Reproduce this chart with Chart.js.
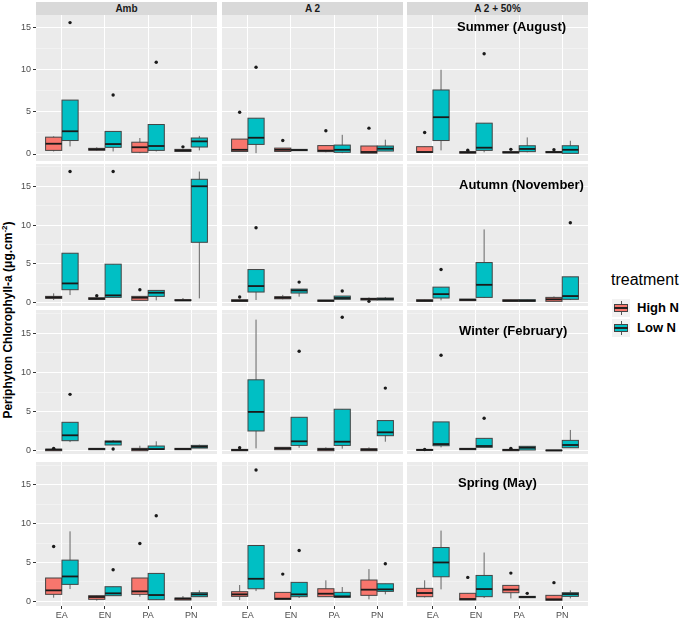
<!DOCTYPE html>
<html>
<head>
<meta charset="utf-8">
<script src="https://cdn.jsdelivr.net/npm/chart.js@4.4.0/dist/chart.umd.min.js"></script>
<style>
body { margin: 0; background: #fff; width: 685px; height: 620px; position: relative; overflow: hidden; font-family: "Liberation Sans", Arial, sans-serif; }
canvas { position: absolute; }
.strip { position: absolute; top: 2px; height: 13px; background: #D9D9D9; font-weight: bold; font-size: 10px; color: #1a1a1a; text-align: center; line-height: 13px; }
.season { position: absolute; font-weight: bold; font-size: 13px; line-height: 16px; color: #000; white-space: nowrap; }
#ytitle { position: absolute; left: 7px; top: 320px; transform: translate(-50%, -50%) rotate(-90deg); font-weight: bold; font-size: 12px; white-space: nowrap; color: #000; }
#ytitle sup { font-size: 8px; }
#legend { position: absolute; left: 611px; top: 271px; }
#legend .title { font-size: 16px; line-height: 18px; color: #000; margin-bottom: 9px; }
#legend .row { height: 20px; position: relative; font-weight: bold; font-size: 13px; line-height: 19px; padding-left: 26px; }
.key { position: absolute; left: 1px; top: 1px; width: 18px; height: 18px; background: #F2F2F2; }
.key .wh { position: absolute; left: 8.5px; top: 2px; width: 1px; height: 14px; background: #555; }
.key .bx { position: absolute; left: 2px; top: 5px; width: 12px; height: 6px; border: 1px solid #444; }
.key .md { position: absolute; left: 2px; top: 8px; width: 14px; height: 2px; background: #222; }
</style>
</head>
<body>
<div id="ytitle">Periphyton Chlorophyll-a (μg.cm<sup>-2</sup>)</div>
<div id="legend">
  <div class="title">treatment</div>
  <div class="row"><span class="key"><span class="wh"></span><span class="bx" style="background:#F8766D"></span><span class="md"></span></span>High N</div>
  <div class="row"><span class="key"><span class="wh"></span><span class="bx" style="background:#00BFC4"></span><span class="md"></span></span>Low N</div>
</div>
<script>
var sites = ['EA', 'EN', 'PA', 'PN'];
var regimes = ['Amb', 'A 2', 'A 2 + 50%'];
var seasons = ['Summer (August)', 'Autumn (November)', 'Winter (February)', 'Spring (May)'];
var yTickValues = [0, 2.5, 5, 7.5, 10, 12.5, 15, 17.5];

// boxes: one row per regime (Amb, A 2, A 2 + 50%), one entry per site: [low, q1, median, q3, high]
var summerHigh = [
	[[0.3, 0.43, 1.22, 2.0, 2.1], [0.4, 0.45, 0.55, 0.67, 0.8], [0.1, 0.2, 0.8, 1.4, 1.9], [0.3, 0.3, 0.43, 0.55, 0.55]],
	[[0.3, 0.3, 0.5, 1.77, 1.77], [0.3, 0.3, 0.5, 0.7, 0.7], [0.2, 0.28, 0.4, 1.0, 1.0], [0.1, 0.1, 0.24, 0.95, 0.95]],
	[[0.2, 0.2, 0.24, 0.87, 0.87], [0.1, 0.1, 0.2, 0.28, 0.28], [0.12, 0.12, 0.2, 0.28, 0.28], [0.15, 0.15, 0.22, 0.3, 0.3]]
];
var summerLow = [
	[[0.9, 1.6, 2.7, 6.4, 6.4], [0.3, 0.79, 1.18, 2.68, 2.68], [0.3, 0.43, 0.95, 3.5, 3.5], [0.43, 0.83, 1.5, 1.9, 2.15]],
	[[0.1, 1.14, 1.93, 4.25, 4.25], [0.4, 0.4, 0.47, 0.55, 0.55], [0.1, 0.2, 0.5, 1.06, 2.28], [0.35, 0.35, 0.63, 0.95, 1.7]],
	[[0.43, 1.6, 4.37, 7.6, 10.0], [0.2, 0.43, 0.75, 3.66, 3.66], [0.2, 0.28, 0.6, 0.98, 1.97], [0.08, 0.08, 0.5, 0.98, 1.57]]
];
var autumnHigh = [
	[[0.34, 0.56, 0.68, 0.81, 1.2], [0.43, 0.43, 0.5, 0.64, 0.64], [0.3, 0.3, 0.64, 0.81, 0.81], [0.26, 0.26, 0.3, 0.38, 0.6]],
	[[0.17, 0.17, 0.25, 0.38, 0.38], [0.43, 0.5, 0.64, 0.77, 1.0], [0.17, 0.17, 0.25, 0.34, 0.34], [0.34, 0.34, 0.47, 0.56, 0.68]],
	[[0.17, 0.17, 0.25, 0.38, 0.38], [0.26, 0.26, 0.36, 0.47, 0.47], [0.17, 0.17, 0.25, 0.38, 0.38], [0.17, 0.17, 0.43, 0.68, 0.8]]
];
var autumnLow = [
	[[0.98, 1.67, 2.48, 6.37, 6.37], [0.68, 0.68, 0.94, 4.96, 4.96], [0.3, 0.81, 1.28, 1.58, 1.58], [0.55, 7.78, 15.0, 15.9, 16.9]],
	[[0.34, 1.37, 2.14, 4.27, 4.27], [0.77, 1.24, 1.58, 1.75, 1.75], [0.43, 0.43, 0.6, 0.85, 0.85], [0.34, 0.34, 0.47, 0.6, 0.73]],
	[[0.3, 0.6, 1.1, 2.0, 2.0], [0.6, 0.68, 2.3, 5.17, 9.44], [0.17, 0.17, 0.25, 0.38, 0.38], [0.34, 0.43, 0.85, 3.33, 3.33]]
];
var winterHigh = [
	[[0, 0, 0.13, 0.2, 0.2], [0.13, 0.13, 0.22, 0.3, 0.3], [0, 0, 0.17, 0.3, 0.64], [0.13, 0.13, 0.22, 0.3, 0.3]],
	[[0, 0, 0.09, 0.17, 0.17], [0.13, 0.13, 0.3, 0.43, 0.43], [0, 0, 0.17, 0.3, 0.43], [0, 0, 0.13, 0.26, 0.43]],
	[[0.04, 0.04, 0.1, 0.17, 0.17], [0.13, 0.13, 0.22, 0.3, 0.3], [0, 0, 0.1, 0.17, 0.17], [0, 0, 0.04, 0.08, 0.08]]
];
var winterLow = [
	[[1.1, 1.28, 1.97, 3.63, 3.63], [0.73, 0.73, 1.15, 1.24, 1.37], [0.17, 0.17, 0.21, 0.6, 1.2], [0.34, 0.34, 0.51, 0.68, 0.77]],
	[[0.3, 2.52, 4.96, 9.06, 16.75], [0.38, 0.68, 1.2, 4.27, 4.27], [0.26, 0.68, 1.15, 5.3, 5.3], [1.15, 1.92, 2.35, 3.85, 3.85]],
	[[0.43, 0.64, 0.85, 3.68, 3.68], [0.43, 0.43, 0.6, 1.58, 1.58], [0.09, 0.09, 0.38, 0.56, 0.56], [0.38, 0.38, 0.73, 1.32, 2.65]]
];
var springHigh = [
	[[0.47, 0.9, 1.41, 3.0, 3.0], [0.09, 0.26, 0.56, 0.73, 0.73], [0.6, 0.9, 1.28, 3.0, 3.0], [0.17, 0.17, 0.34, 0.43, 0.68]],
	[[0.17, 0.64, 0.9, 1.24, 2.1], [0.26, 0.26, 0.34, 1.15, 1.15], [0.6, 0.6, 0.98, 1.62, 2.7], [0.26, 0.77, 1.5, 2.74, 4.15]],
	[[0.5, 0.6, 1.07, 1.67, 2.7], [0.17, 0.17, 0.3, 1.03, 1.03], [0.38, 1.11, 1.5, 2.05, 2.05], [0.13, 0.13, 0.26, 0.77, 0.77]]
];
var springLow = [
	[[1.58, 2.18, 3.2, 5.3, 9.0], [0.73, 0.73, 1.03, 1.88, 1.88], [0.21, 0.21, 0.81, 3.59, 3.59], [0.6, 0.6, 0.9, 1.11, 1.41]],
	[[1.32, 1.62, 2.9, 7.18, 7.18], [0.43, 0.6, 0.9, 2.44, 2.44], [0.51, 0.51, 0.64, 1.15, 1.84], [0.9, 1.28, 1.54, 2.26, 2.26]],
	[[1.54, 3.16, 5.0, 6.92, 9.1], [0.43, 0.6, 1.58, 3.33, 6.28], [0.47, 0.47, 0.56, 0.64, 0.64], [0.38, 0.64, 0.94, 1.11, 1.41]]
];

// outliers: [regime index, site index, value]
var summerHighOut = [[0, 3, 0.85], [1, 0, 4.96], [1, 1, 1.6], [1, 2, 2.76], [1, 3, 3.07], [2, 0, 2.56], [2, 1, 0.45], [2, 2, 0.55], [2, 3, 0.5]];
var summerLowOut = [[0, 0, 15.6], [0, 1, 7.0], [0, 2, 10.9], [1, 0, 10.3], [2, 1, 11.9]];
var autumnHighOut = [[0, 1, 0.9], [0, 2, 1.67], [1, 0, 0.73], [1, 3, 0.17]];
var autumnLowOut = [[0, 0, 16.9], [0, 1, 16.9], [1, 0, 9.66], [1, 1, 2.65], [1, 2, 1.5], [2, 0, 4.27], [2, 3, 10.3]];
var winterHighOut = [[0, 0, 0.3], [1, 0, 0.38], [2, 0, 0.15], [2, 2, 0.3]];
var winterLowOut = [[0, 0, 7.2], [0, 1, 0.21], [1, 1, 12.7], [1, 2, 17.05], [1, 3, 8.0], [2, 0, 12.2], [2, 1, 4.15]];
var springHighOut = [[0, 0, 7.05], [0, 2, 7.44], [1, 1, 3.5], [2, 1, 3.08], [2, 2, 3.63], [2, 3, 2.4]];
var springLowOut = [[0, 1, 4.06], [0, 2, 11.0], [1, 0, 16.9], [1, 1, 6.54], [1, 3, 4.83], [2, 2, 1.03]];

var seasonBoxes = [[summerHigh, summerLow], [autumnHigh, autumnLow], [winterHigh, winterLow], [springHigh, springLow]];
var seasonOutliers = [[summerHighOut, summerLowOut], [autumnHighOut, autumnLowOut], [winterHighOut, winterLowOut], [springHighOut, springLowOut]];

// layout
var fills = ['#F8766D', '#00BFC4'];
var colLeft = [36, 222, 407];
var colWidth = 181;
var rowTop = [15, 164, 310, 462];
var rowBottom = [161, 306, 454, 606];
var rowRange = [[-0.83, 16.5], [-0.43, 17.87], [-0.42, 17.98], [-0.6, 17.92]];
var seasonPos = [[457, 19], [459, 177], [459, 323], [458, 475]];
var dodge = 0.19;
var boxWidth = 0.375;
var fontFamily = '"Liberation Sans", Arial, sans-serif';

function noPadding(s) {
	s.paddingTop = 0;
	s.paddingBottom = 0;
	s.paddingLeft = 0;
	s.paddingRight = 0;
}

function boxPlugin(highBoxes, lowBoxes) {
	return {
		id: 'boxes',
		beforeDraw: function(chart) {
			var a = chart.chartArea;
			chart.ctx.save();
			chart.ctx.fillStyle = '#EBEBEB';
			chart.ctx.fillRect(a.left, a.top, a.right - a.left, a.bottom - a.top);
			chart.ctx.restore();
		},
		beforeDatasetsDraw: function(chart) {
			var ctx = chart.ctx;
			var xs = chart.scales.x;
			var ys = chart.scales.y;
			var half = (xs.getPixelForValue(1 + boxWidth / 2) - xs.getPixelForValue(1));
			[highBoxes, lowBoxes].forEach(function(set, t) {
				set.forEach(function(b, i) {
					var cx = xs.getPixelForValue(i + 1 + (t === 0 ? -dodge : dodge));
					var yLow = ys.getPixelForValue(b[0]);
					var yQ1 = ys.getPixelForValue(b[1]);
					var yMed = ys.getPixelForValue(b[2]);
					var yQ3 = ys.getPixelForValue(b[3]);
					var yHigh = ys.getPixelForValue(b[4]);
					ctx.save();
					ctx.strokeStyle = '#666';
					ctx.lineWidth = 1;
					ctx.beginPath();
					ctx.moveTo(cx, yLow);
					ctx.lineTo(cx, yHigh);
					ctx.stroke();
					ctx.fillStyle = fills[t];
					ctx.fillRect(cx - half, yQ3, 2 * half, yQ1 - yQ3);
					ctx.strokeStyle = '#444';
					ctx.lineWidth = 1;
					ctx.strokeRect(cx - half, yQ3, 2 * half, yQ1 - yQ3);
					ctx.strokeStyle = '#1a1a1a';
					ctx.lineWidth = 1.8;
					ctx.beginPath();
					ctx.moveTo(cx - half, yMed);
					ctx.lineTo(cx + half, yMed);
					ctx.stroke();
					ctx.restore();
				});
			});
		}
	};
}

regimes.forEach(function(name, c) {
	var strip = document.createElement('div');
	strip.className = 'strip';
	strip.style.left = colLeft[c] + 'px';
	strip.style.width = colWidth + 'px';
	strip.textContent = name;
	document.body.appendChild(strip);
});

seasons.forEach(function(season, r) {
	regimes.forEach(function(regime, c) {
		var left = c === 0 ? 0 : colLeft[c];
		var top = rowTop[r];
		var w = colLeft[c] + colWidth - left;
		var h = (r === 3 ? 620 : rowBottom[r]) - top;
		var canvas = document.createElement('canvas');
		canvas.width = w;
		canvas.height = h;
		canvas.style.left = left + 'px';
		canvas.style.top = top + 'px';
		canvas.style.width = w + 'px';
		canvas.style.height = h + 'px';
		document.body.appendChild(canvas);

		var points = [];
		seasonOutliers[r].forEach(function(list, t) {
			list.forEach(function(o) {
				if(o[0] === c) {
					points.push({ x: o[1] + 1 + (t === 0 ? -dodge : dodge), y: o[2] });
				}
			});
		});

		new Chart(canvas.getContext('2d'), {
			type: 'scatter',
			data: {
				datasets: [{
					data: points,
					pointRadius: 1.7,
					pointBackgroundColor: '#1a1a1a',
					pointBorderWidth: 0
				}]
			},
			options: {
				responsive: false,
				animation: false,
				events: [],
				layout: { padding: 0, autoPadding: false },
				plugins: { legend: { display: false }, tooltip: { enabled: false } },
				scales: {
					x: {
						type: 'linear',
						min: 0.4,
						max: 4.6,
						afterBuildTicks: function(s) { s.ticks = [1, 2, 3, 4].map(function(v) { return { value: v }; }); },
						afterFit: function(s) {
							s.height = r === 3 ? 620 - rowBottom[r] : 0;
							noPadding(s);
						},
						ticks: {
							display: r === 3,
							autoSkip: false,
							maxRotation: 0,
							padding: 1,
							color: '#4d4d4d',
							font: { size: 9, family: fontFamily },
							callback: function(v) { return sites[v - 1]; }
						},
						grid: { color: '#ffffff', lineWidth: 1, drawTicks: r === 3, tickLength: 3, tickColor: '#333' },
						border: { display: false }
					},
					y: {
						type: 'linear',
						min: rowRange[r][0],
						max: rowRange[r][1],
						afterBuildTicks: function(s) {
							s.ticks = yTickValues.filter(function(v) { return v <= rowRange[r][1]; }).map(function(v) { return { value: v }; });
						},
						afterFit: function(s) {
							s.width = c === 0 ? colLeft[0] : 0;
							noPadding(s);
						},
						ticks: {
							display: c === 0,
							autoSkip: false,
							padding: 2,
							color: '#4d4d4d',
							font: { size: 9, family: fontFamily },
							callback: function(v) { return v % 5 === 0 ? String(v) : ''; }
						},
						grid: {
							color: function(ctx) { return ctx.tick && ctx.tick.value % 5 === 0 ? '#ffffff' : '#F6F6F6'; },
							lineWidth: function(ctx) { return ctx.tick && ctx.tick.value % 5 === 0 ? 1 : 0.6; },
							drawTicks: c === 0,
							tickLength: 3,
							tickColor: function(ctx) { return ctx.tick && ctx.tick.value % 5 === 0 ? '#333' : 'rgba(0,0,0,0)'; }
						},
						border: { display: false }
					}
				}
			},
			plugins: [boxPlugin(seasonBoxes[r][0][c], seasonBoxes[r][1][c])]
		});
	});

	var label = document.createElement('div');
	label.className = 'season';
	label.style.left = seasonPos[r][0] + 'px';
	label.style.top = seasonPos[r][1] + 'px';
	label.textContent = season;
	document.body.appendChild(label);
});
</script>
</body>
</html>
